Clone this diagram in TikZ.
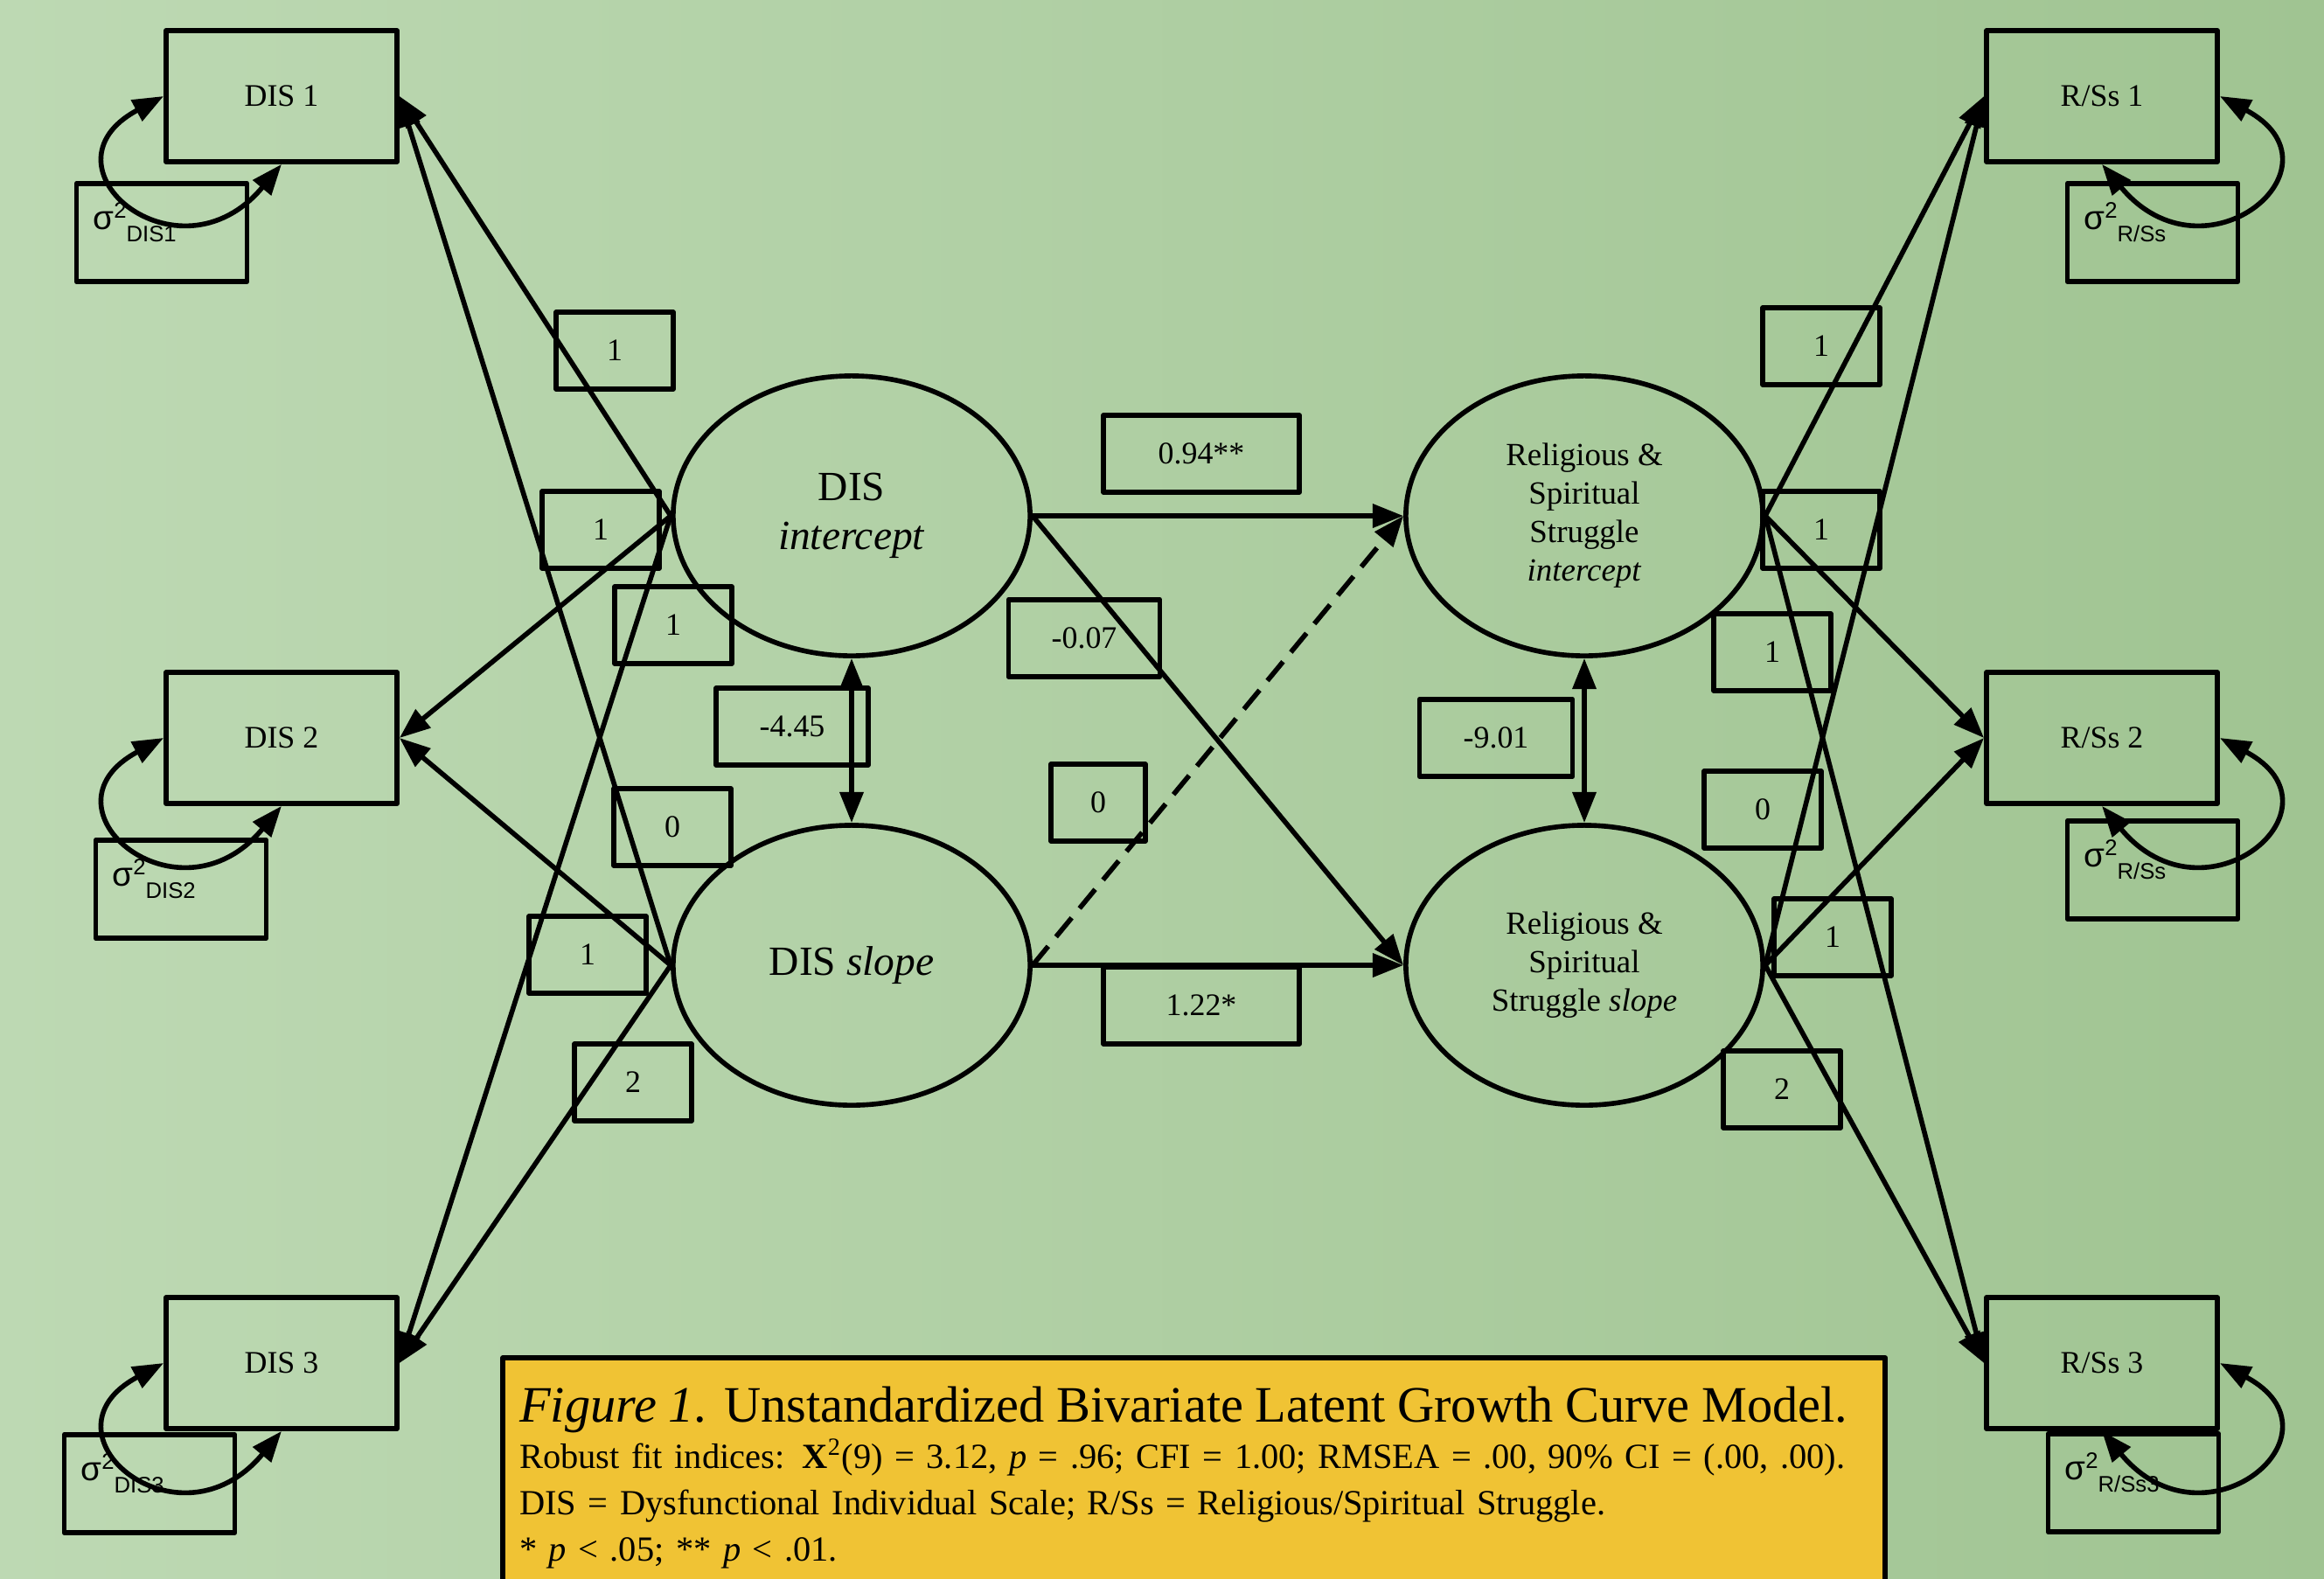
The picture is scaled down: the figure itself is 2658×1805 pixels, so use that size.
\documentclass[tikz,border=0pt]{standalone}
\usepackage{fontspec}
\setmainfont{Liberation Serif}
\newfontfamily\sgfont{Liberation Sans}
\usetikzlibrary{arrows.meta,shapes.geometric}
\definecolor{bgleft}{RGB}{189,217,179}
\definecolor{bgright}{RGB}{160,196,146}
\definecolor{capyellow}{RGB}{240,195,52}
\newcommand{\varlab}[1]{{\sgfont\fontsize{11}{13}\selectfont σ\raisebox{3.7pt}{\fontsize{7.3}{8}\selectfont 2}\raisebox{-4pt}{\fontsize{7.3}{8}\selectfont #1}}}

\begin{document}
\begin{tikzpicture}[x=0.01cm,y=-0.01cm,>={Triangle[length=10pt,width=7.5pt]},line join=round,line width=1.6pt,
	obs/.style={draw,minimum width=2.64cm,minimum height=1.5cm,inner sep=0pt,font=\fontsize{10.2}{12}\selectfont},
	err/.style={draw,minimum width=1.95cm,minimum height=1.12cm,inner xsep=5.4pt,text width=1.57cm,align=left,text height=8.7pt,text depth=10.5pt},
	lat/.style={draw,ellipse,minimum width=4.08cm,minimum height=3.2cm,inner sep=0pt,align=center},
	coef/.style={draw,minimum height=0.88cm,inner sep=0pt,font=\fontsize{10.2}{12}\selectfont}]
	\useasboundingbox (0,0) rectangle (2658,1805);
	\shade[left color=bgleft,right color=bgright] (0,0) rectangle (2658,1805);
	\foreach \i/\y in {1/110,2/844,3/1559}{
		\node[obs] (dis\i) at (322,\y) {DIS \i};
		\node[obs] (rss\i) at (2404,\y) {R/Ss \i};
	}
	\foreach \n/\x/\y/\t in {e1/185/266/DIS1,e2/207/1017/DIS2,e3/171/1697/DIS3,e4/2462/266/{R/Ss},e5/2462/995/{R/Ss},e6/2440/1696/{R/Ss3}}
		\node[err] (\n) at (\x,\y) {\varlab{\t}};
	\node[lat,font=\fontsize{13.5}{16}\selectfont] (disI) at (974,590) {DIS\\\textit{intercept}};
	\node[lat,font=\fontsize{13.5}{16}\selectfont] (disS) at (974,1104) {DIS \textit{slope}};
	\node[lat,font=\fontsize{10.5}{12.5}\selectfont] (rssI) at (1812,590) {Religious \&\\Spiritual\\Struggle\\\textit{intercept}};
	\node[lat,font=\fontsize{10.5}{12.5}\selectfont] (rssS) at (1812,1104) {Religious \&\\Spiritual\\Struggle \textit{slope}};
	\foreach \n/\x/\y/\w/\t in {c1/703/401/1.34/1,c2/687/606/1.34/1,c3/770/715/1.34/1,c4/906/831/1.74/-4.45,
		c5/769/946/1.34/0,c6/672/1092/1.34/1,c7/724/1238/1.34/2,c8/1374/519/2.24/0.94**,c9/1240/730/1.73/-0.07,
		c10/1256/918/1.08/0,c11/1374/1150/2.24/1.22*,c12/1711/844/1.75/-9.01,c13/2083/396/1.34/1,c14/2083/606/1.34/1,
		c15/2027/746/1.34/1,c16/2016/926/1.34/0,c17/2096/1072/1.34/1,c18/2038/1246/1.34/2}
		\node[coef,minimum width=\w cm] (\n) at (\x,\y) {\t};
	\foreach \s in {disI,disS}{\foreach \i in {1,2,3} \draw[->] (\s.west) -- (dis\i.east);}
	\foreach \s in {rssI,rssS}{\foreach \i in {1,2,3} \draw[->] (\s.east) -- (rss\i.west);}
	\draw[->] (disI.east) -- (rssI.west);
	\draw[->] (disI.east) -- (rssS.west);
	\draw[->] (disS.east) -- (rssS.west);
	\draw[->,dash pattern=on 8pt off 4pt] (disS.east) -- (rssI.west);
	\draw[<->] (disI.south) -- (disS.north);
	\draw[<->] (rssI.south) -- (rssS.north);
	\foreach \i in {1,2,3}{
		\draw[<->] (dis\i.west) .. controls +(-150,80) and +(-118,142) .. (dis\i.south);
		\draw[<->] (rss\i.east) .. controls +(150,80) and +(118,142) .. (rss\i.south);
	}
	\node[draw,fill=capyellow,line width=1.8pt,anchor=north west,text width=15.42cm,align=left,inner xsep=0.19cm,inner ysep=9.4pt,text depth=60pt,font=\fontsize{11.5}{15}\selectfont] (cap) at (572,1550)
		{{\fontsize{16.6}{19}\selectfont\textit{Figure 1}. Unstandardized Bivariate Latent Growth Curve Model.}\\
		Robust fit indices: \textbf{X}\textsuperscript{2}(9) = 3.12, \textit{p} = .96; CFI = 1.00; RMSEA = .00, 90\% CI = (.00, .00).\\\relax
		DIS = Dysfunctional Individual Scale; R/Ss = Religious/Spiritual Struggle.\\\relax
		{*} \textit{p} < .05; ** \textit{p} < .01.};
\end{tikzpicture}
\end{document}
